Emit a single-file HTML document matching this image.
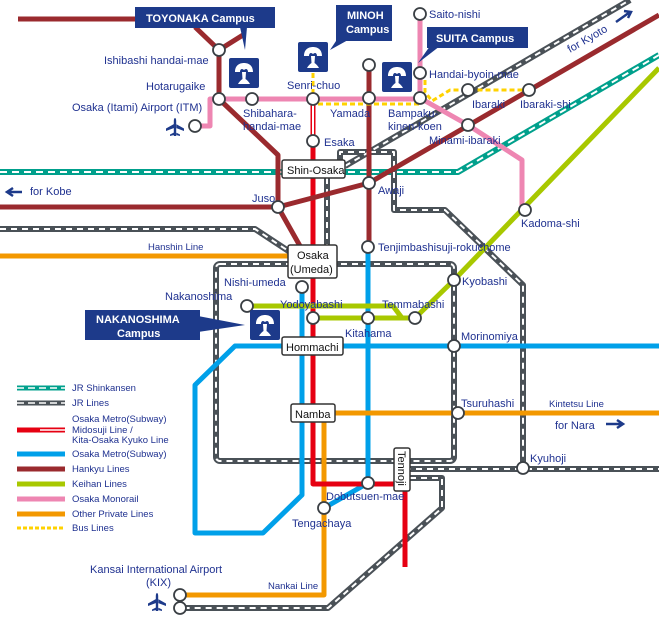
<!DOCTYPE html>
<html><head><meta charset="utf-8"><style>
html,body{margin:0;padding:0;background:#fff}
svg{display:block}
text{font-family:"Liberation Sans",sans-serif;fill:#1f3190;font-size:11px}
.s{font-size:9.5px}
.w{fill:#fff;font-weight:bold}
.b{fill:#111;font-size:11px}
</style></head><body>
<svg width="659" height="617" viewBox="0 0 659 617" xmlns="http://www.w3.org/2000/svg">
<defs>
<g id="gk"><rect x="0" y="0" width="30" height="30" rx="2" fill="#1d3a8a"/><path d="M6 14 C6 7 11 5 15 5 C19 5 24 7 24 14 L19 14 C19 11 17 10 15 12 C13 10 11 11 11 14 Z M13 14 L17 14 L16.5 21 C18 22 20 24 21 26 L9 26 C10 24 12 22 13.5 21 Z" fill="#fff"/></g>
<path id="pl" d="M-9 -1.2 L6 -1.2 C8 -1.2 9 -0.6 9 0 C9 0.6 8 1.2 6 1.2 L-9 1.2 Z M-1 -1 L-4 -9 L-1.5 -9 L3 -1 Z M-1 1 L-4 9 L-1.5 9 L3 1 Z M-8 -1 L-9 -5 L-7.5 -5 L-5.5 -1 Z M-8 1 L-9 5 L-7.5 5 L-5.5 1 Z" fill="#1d3a8a"/>
</defs>
<g fill="none" stroke-linejoin="round">
<path d="M0 256 H290" stroke="#f39800" stroke-width="5"/>
<path d="M0 172 H458 L659 55" stroke="#00a08c" stroke-width="6"/>
<path d="M0 172 H458 L659 55" stroke="#fff" stroke-width="2" stroke-dasharray="7 5"/>
<g stroke="#4a5157" stroke-width="6">
<path d="M0 229 H255 L290 252"/><rect x="216" y="264" width="238" height="197" rx="4"/><path d="M327 178 V245"/><path d="M345 166 L630 0"/><path d="M340 166 V152 H394 V210 H445 L523 285 V468"/><path d="M405 469 H659"/><path d="M410 478 H442 V508 L328 608 H180"/>
</g>
<g stroke="#fff" stroke-width="2" stroke-dasharray="6 5">
<path d="M0 229 H255 L290 252"/><rect x="216" y="264" width="238" height="197" rx="4"/><path d="M327 178 V245"/><path d="M345 166 L630 0"/><path d="M340 166 V152 H394 V210 H445 L523 285 V468"/><path d="M405 469 H659"/><path d="M410 478 H442 V508 L328 608 H180"/>
</g>
<path d="M659 346 H235 L195 385 V533 H263 L302 495 V287" stroke="#00a0e9" stroke-width="5"/>
<path d="M368 247 V483 L324 508" stroke="#00a0e9" stroke-width="5"/>
<path d="M335 413 H659" stroke="#f39800" stroke-width="5"/>
<path d="M324 422 V595 H180" stroke="#f39800" stroke-width="5"/>
<path d="M313 99 V141" stroke="#e60012" stroke-width="5"/>
<path d="M313 101 V141" stroke="#fff" stroke-width="2"/>
<path d="M313 141 V484 H405 V567" stroke="#e60012" stroke-width="5"/>
<path d="M247 306 H393 L402 318" stroke="#a8c800" stroke-width="5"/>
<path d="M313 318 H415 L454 280 L659 68" stroke="#a8c800" stroke-width="5"/>
<path d="M195 126 H210 V99 H420 V14" stroke="#ee86b2" stroke-width="5"/>
<path d="M420 98 L468 125 L522 160 V210" stroke="#ee86b2" stroke-width="5"/>
<g stroke="#9a2a2e" stroke-width="5">
<path d="M18 19 H140 M195 27 L219 50 L243 35 M219 50 V99 L278 155 V207 L300 246"/>
<path d="M0 207 H278 L369 183 L659 15"/>
<path d="M369 65 V247"/>
</g>
<g stroke="#ffd200" stroke-width="3" stroke-dasharray="5 3">
<path d="M313 73 V99"/><path d="M318 104 H420"/><path d="M425 80 V92 L432 101 L450 90 H529"/>
</g>
</g>
<g fill="#fff" stroke="#3a3f44" stroke-width="1.8">
<circle cx="219" cy="50" r="6"/><circle cx="219" cy="99" r="6"/><circle cx="252" cy="99" r="6"/><circle cx="195" cy="126" r="6"/>
<circle cx="313" cy="99" r="6"/><circle cx="313" cy="141" r="6"/><circle cx="369" cy="98" r="6"/><circle cx="369" cy="65" r="6"/>
<circle cx="420" cy="98" r="6"/><circle cx="420" cy="73" r="6"/><circle cx="420" cy="14" r="6"/>
<circle cx="468" cy="90" r="6"/><circle cx="529" cy="90" r="6"/><circle cx="468" cy="125" r="6"/>
<circle cx="278" cy="207" r="6"/><circle cx="369" cy="183" r="6"/><circle cx="525" cy="210" r="6"/><circle cx="368" cy="247" r="6"/>
<circle cx="302" cy="287" r="6"/><circle cx="247" cy="306" r="6"/><circle cx="313" cy="318" r="6"/><circle cx="368" cy="318" r="6"/><circle cx="415" cy="318" r="6"/>
<circle cx="454" cy="280" r="6"/><circle cx="454" cy="346" r="6"/><circle cx="458" cy="413" r="6"/><circle cx="523" cy="468" r="6"/>
<circle cx="368" cy="483" r="6"/><circle cx="324" cy="508" r="6"/><circle cx="180" cy="595" r="6"/><circle cx="180" cy="608" r="6"/>
</g>
<g fill="#fff" stroke="#333" stroke-width="1.5">
<rect x="282" y="160" width="63" height="18" rx="2"/><rect x="288" y="245" width="49" height="33" rx="2"/>
<rect x="282" y="337" width="61" height="18" rx="2"/><rect x="291" y="404" width="44" height="18" rx="2"/>
<rect x="394" y="448" width="16" height="43" rx="2"/>
</g>
<text class="b" x="287" y="174">Shin-Osaka</text>
<text class="b" x="297" y="259">Osaka</text><text class="b" x="290" y="273">(Umeda)</text>
<text class="b" x="286" y="351">Hommachi</text><text class="b" x="295" y="418">Namba</text>
<text class="b" transform="translate(398,451) rotate(90)">Tennoji</text>
<rect x="135" y="7" width="140" height="21" fill="#1d3a8a"/><path d="M240 27 L247 27 L245 50 Z" fill="#1d3a8a"/>
<text class="w" x="146" y="22" font-size="12">TOYONAKA Campus</text>
<use href="#gk" x="229" y="58"/>
<rect x="336" y="5" width="56" height="36" fill="#1d3a8a"/><path d="M338 38 L348 40 L330 50 Z" fill="#1d3a8a"/>
<text class="w" x="347" y="19" font-size="12">MINOH</text><text class="w" x="346" y="33" font-size="12">Campus</text>
<use href="#gk" x="298" y="42"/>
<rect x="427" y="27" width="101" height="21" fill="#1d3a8a"/><path d="M430 46 L440 46 L418 63 Z" fill="#1d3a8a"/>
<text class="w" x="436" y="42" font-size="12">SUITA Campus</text>
<use href="#gk" x="382" y="62"/>
<rect x="85" y="310" width="115" height="30" fill="#1d3a8a"/><path d="M198 316 L245 325 L198 332 Z" fill="#1d3a8a"/>
<text class="w" x="96" y="323" font-size="12">NAKANOSHIMA</text><text class="w" x="117" y="337" font-size="12">Campus</text>
<use href="#gk" x="250" y="310"/>
<use href="#pl" transform="translate(175,127) rotate(-90)"/>
<use href="#pl" transform="translate(157,602) rotate(-90)"/>
<path d="M22 192 H8 M13 188 L7 192 L13 196" stroke="#1d3a8a" stroke-width="2.5" fill="none"/>
<path d="M606 424 H622 M617 420 L623 424 L617 428" stroke="#1d3a8a" stroke-width="2.5" fill="none"/>
<path d="M616 22 L630 12 M624 11 L631 12 L628 18" stroke="#1d3a8a" stroke-width="2.5" fill="none"/>
<text x="104" y="64">Ishibashi handai-mae</text>
<text x="146" y="90">Hotarugaike</text>
<text x="72" y="111">Osaka (Itami) Airport (ITM)</text>
<text x="243" y="117">Shibahara-</text><text x="243" y="130">handai-mae</text>
<text x="287" y="89">Senri-chuo</text>
<text x="330" y="117">Yamada</text>
<text x="324" y="146">Esaka</text>
<text x="388" y="117">Bampaku-</text><text x="388" y="130">kinen-koen</text>
<text x="429" y="144">Minami-ibaraki</text>
<text x="472" y="108">Ibaraki</text><text x="520" y="108">Ibaraki-shi</text>
<text x="429" y="18">Saito-nishi</text>
<text x="429" y="78">Handai-byoin-mae</text>
<text transform="translate(570,53) rotate(-30)">for Kyoto</text>
<text x="30" y="195">for Kobe</text>
<text x="252" y="202">Juso</text>
<text x="378" y="194">Awaji</text>
<text x="521" y="227">Kadoma-shi</text>
<text x="378" y="251">Tenjimbashisuji-rokuchome</text>
<text class="s" x="148" y="250">Hanshin Line</text>
<text x="224" y="286">Nishi-umeda</text>
<text x="165" y="300">Nakanoshima</text>
<text x="280" y="308">Yodoyabashi</text>
<text x="382" y="308">Temmabashi</text>
<text x="345" y="337">Kitahama</text>
<text x="462" y="285">Kyobashi</text>
<text x="461" y="340">Morinomiya</text>
<text x="461" y="407">Tsuruhashi</text>
<text class="s" x="549" y="407">Kintetsu Line</text>
<text x="555" y="429">for Nara</text>
<text x="530" y="462">Kyuhoji</text>
<text x="326" y="500">Dobutsuen-mae</text>
<text x="292" y="527">Tengachaya</text>
<text x="90" y="573">Kansai International Airport</text><text x="146" y="586">(KIX)</text>
<text class="s" x="268" y="589">Nankai Line</text>
<g fill="none">
<path d="M17 388 H65" stroke="#00a08c" stroke-width="5"/><path d="M17 388 H65" stroke="#fff" stroke-width="1.5" stroke-dasharray="7 4"/>
<path d="M17 403 H65" stroke="#4a5157" stroke-width="5"/><path d="M17 403 H65" stroke="#fff" stroke-width="1.5" stroke-dasharray="7 4"/>
<path d="M17 430 H65" stroke="#e60012" stroke-width="5"/><path d="M40 430 H65" stroke="#fff" stroke-width="1.5"/>
<path d="M17 454 H65" stroke="#00a0e9" stroke-width="5"/>
<path d="M17 469 H65" stroke="#9a2a2e" stroke-width="5"/>
<path d="M17 484 H65" stroke="#a8c800" stroke-width="5"/>
<path d="M17 499 H65" stroke="#ee86b2" stroke-width="5"/>
<path d="M17 514 H65" stroke="#f39800" stroke-width="5"/>
<path d="M17 528 H65" stroke="#ffd200" stroke-width="3" stroke-dasharray="4 2"/>
</g>
<text class="s" x="72" y="391">JR Shinkansen</text><text class="s" x="72" y="406">JR Lines</text>
<text class="s" x="72" y="422">Osaka Metro(Subway)</text><text class="s" x="72" y="433">Midosuji Line /</text><text class="s" x="72" y="443">Kita-Osaka Kyuko Line</text>
<text class="s" x="72" y="457">Osaka Metro(Subway)</text><text class="s" x="72" y="472">Hankyu Lines</text>
<text class="s" x="72" y="487">Keihan Lines</text><text class="s" x="72" y="502">Osaka Monorail</text>
<text class="s" x="72" y="517">Other Private Lines</text><text class="s" x="72" y="531">Bus Lines</text>
</svg>
</body></html>
